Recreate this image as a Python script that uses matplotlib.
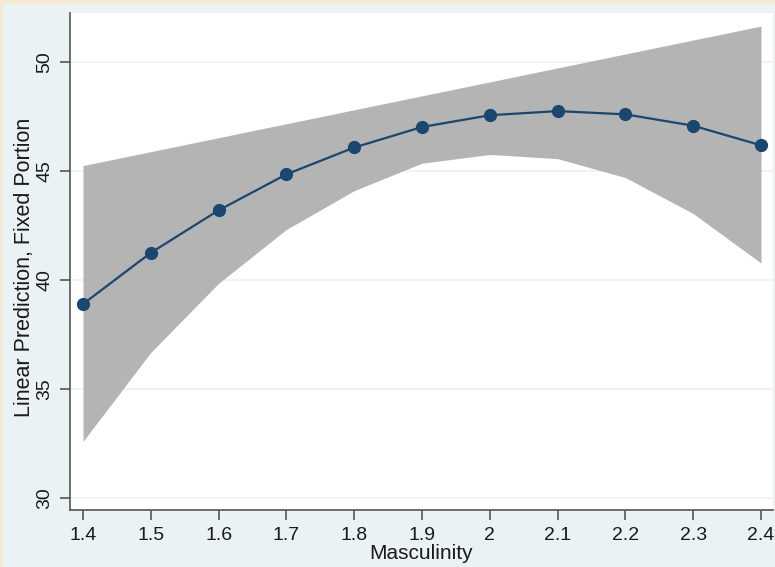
import matplotlib
matplotlib.use('agg')
import matplotlib.pyplot as plt
from matplotlib.patches import Rectangle
import numpy as np

# values (marginsplot style)
masculinity = [1.4, 1.5, 1.6, 1.7, 1.8, 1.9, 2.0, 2.1, 2.2, 2.3, 2.4]
prediction = [38.9, 41.25, 43.2, 44.85, 46.08, 47.02, 47.56, 47.75, 47.6, 47.08, 46.18]
ci_low = [32.6, 36.68, 39.85, 42.32, 44.1, 45.36, 45.76, 45.57, 44.7, 43.05, 40.78]
ci_high = [45.25, 45.89, 46.53, 47.17, 47.81, 48.45, 49.09, 49.73, 50.37, 51.01, 51.65]
xticks = [1.4, 1.5, 1.6, 1.7, 1.8, 1.9, 2.0, 2.1, 2.2, 2.3, 2.4]
xticklabels = ['1.4', '1.5', '1.6', '1.7', '1.8', '1.9', '2', '2.1', '2.2', '2.3', '2.4']
yticks = [30, 35, 40, 45, 50]

plt.rcParams['font.family'] = ['Liberation Sans', 'DejaVu Sans']

W, H = 775, 567
fig = plt.figure(figsize=(W / 100, H / 100), dpi=100)
fig.patch.set_facecolor('#eaf2f3')
# beige frame strips at the top and left edge
fig.patches.append(Rectangle((0, 1 - 4 / H), 1, 4 / H, transform=fig.transFigure,
                             facecolor='#f6ead6', edgecolor='none', zorder=0))
fig.patches.append(Rectangle((0, 0), 3 / W, 1, transform=fig.transFigure,
                             facecolor='#f6ead6', edgecolor='none', zorder=0))

ax = fig.add_axes([70 / W, 1 - 510 / H, 703 / W, 497 / H])
ax.set_facecolor('white')

ax.fill_between(masculinity, ci_low, ci_high, color='#b4b4b4', linewidth=0, zorder=2)
ax.plot(masculinity, prediction, '-o', color='#1a476f', linewidth=1.6,
        markersize=8.5, zorder=3)

ax.set_xlim(1.3808, 2.4177)
ax.set_ylim(29.45, 52.25)
ax.set_xticks(xticks)
ax.set_xticklabels(xticklabels)
ax.set_yticks(yticks)
ax.set_yticklabels([str(v) for v in yticks], rotation=90, va='center')

ax.yaxis.grid(True, color='#eaf2f3', linewidth=1.2, zorder=1)
ax.set_axisbelow(True)
for s in ['top', 'right']:
    ax.spines[s].set_visible(False)
for s in ['left', 'bottom']:
    ax.spines[s].set_color('#555555')
    ax.spines[s].set_linewidth(1.2)
ax.tick_params(axis='both', direction='out', length=7, width=1.2, color='#555555',
               labelsize=14, labelcolor='#1a1a1a')
ax.tick_params(axis='x', pad=5)
ax.tick_params(axis='y', pad=5)

ax.set_xlabel('Masculinity', fontsize=15, color='#1a1a1a', labelpad=0)
ax.set_ylabel('Linear Prediction, Fixed Portion', fontsize=15.5, color='#1a1a1a')
ax.yaxis.set_label_coords(-0.05, 0.489)

plt.savefig('out.png', dpi=100)
plt.close()
